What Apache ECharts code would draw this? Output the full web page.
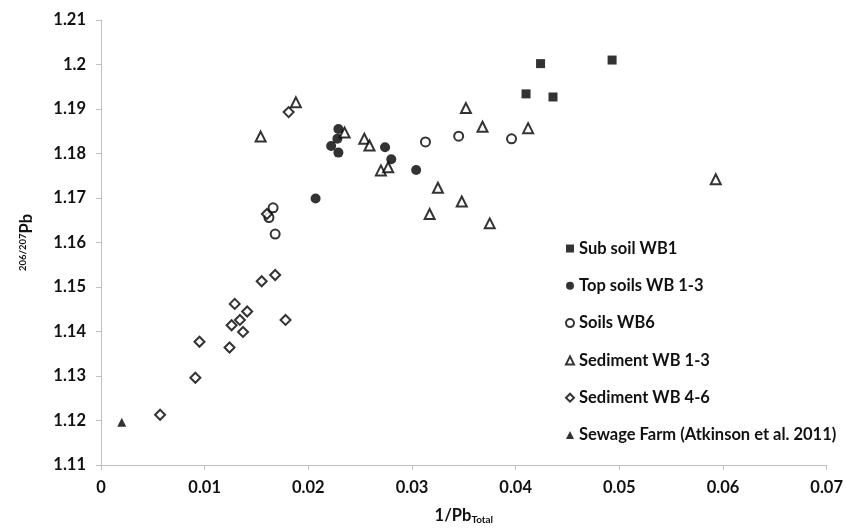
<!DOCTYPE html>
<html>
<head>
<meta charset="utf-8">
<script src="https://cdn.jsdelivr.net/npm/echarts@6/dist/echarts.min.js"></script>
<style>
  html, body { margin: 0; padding: 0; background: #fff; }
  #container1 { width: 846px; height: 530px; }
</style>
</head>
<body>
<div id="container1"></div>
<script>
// [1/Pb total, 206/207Pb]
var subSoilWB1 = [[0.0410, 1.1934], [0.0424, 1.2002], [0.0436, 1.1927], [0.0493, 1.2010]];
var topSoilsWB13 = [[0.0229, 1.1855], [0.0228, 1.1833], [0.0222, 1.1817], [0.0229, 1.1802],
    [0.0274, 1.1814], [0.0280, 1.1787], [0.0304, 1.1763], [0.0207, 1.1699]];
var soilsWB6 = [[0.0313, 1.1826], [0.0345, 1.1839], [0.0396, 1.1833],
    [0.0166, 1.1678], [0.0162, 1.1656], [0.0168, 1.1619]];
var sedimentWB13 = [[0.0154, 1.1838], [0.0188, 1.1915], [0.0235, 1.1847], [0.0254, 1.1833],
    [0.0259, 1.1818], [0.0270, 1.1762], [0.0277, 1.1769], [0.0325, 1.1723], [0.0317, 1.1664],
    [0.0348, 1.1692], [0.0375, 1.1643], [0.0352, 1.1902], [0.0368, 1.1860], [0.0412, 1.1857],
    [0.0593, 1.1742]];
var sedimentWB46 = [[0.0181, 1.1893], [0.0160, 1.1664], [0.0057, 1.1213], [0.0091, 1.1296],
    [0.0095, 1.1377], [0.0124, 1.1364], [0.0126, 1.1414], [0.0129, 1.1462], [0.0134, 1.1426],
    [0.0137, 1.1399], [0.0141, 1.1445], [0.0155, 1.1513], [0.0168, 1.1527], [0.0178, 1.1426]];
var sewageFarm = [[0.0020, 1.1196]];

var dom = document.getElementById("container1");
var myChart = echarts.init(dom);
var labelFont = { fontFamily: 'Lato', fontWeight: 'bold', fontSize: 16.5, color: '#111' };

var option = {
    animation: false,
    backgroundColor: '#fff',
    grid: { left: 101, right: 16, top: 20, bottom: 61 },
    legend: {
        orient: 'vertical',
        left: 560,
        top: 235,
        itemWidth: 8,
        itemHeight: 8,
        itemGap: 20.3,
        textStyle: labelFont,
        data: ['Sub soil WB1', 'Top soils WB 1-3', 'Soils WB6', 'Sediment WB 1-3',
            'Sediment WB 4-6', 'Sewage Farm (Atkinson et al. 2011)']
    },
    xAxis: {
        type: 'value',
        min: 0,
        max: 0.07,
        interval: 0.01,
        splitLine: { show: false },
        axisLine: { show: true, onZero: false, lineStyle: { color: '#bfbfbf' } },
        axisTick: { show: true, length: 5, lineStyle: { color: '#bfbfbf' } },
        axisLabel: Object.assign({ margin: 14 }, labelFont),
        name: '{b|1/Pb}{sub|Total}',
        nameLocation: 'middle',
        nameGap: 42,
        nameTextStyle: {
            rich: {
                b: labelFont,
                sub: { fontFamily: 'Lato', fontWeight: 'bold', fontSize: 10, color: '#111', padding: [8, 0, 0, 0] }
            }
        }
    },
    yAxis: {
        type: 'value',
        min: 1.11,
        max: 1.21,
        interval: 0.01,
        splitLine: { show: false },
        axisLine: { show: true, onZero: false, lineStyle: { color: '#bfbfbf' } },
        axisTick: { show: true, length: 5, lineStyle: { color: '#bfbfbf' } },
        axisLabel: Object.assign({ margin: 15, formatter: function (v) {
            return String(parseFloat(v.toFixed(2)));
        } }, labelFont),
        name: '{sup|206/207}{b|Pb}',
        nameLocation: 'middle',
        nameRotate: 90,
        nameGap: 66,
        nameTextStyle: {
            rich: {
                b: labelFont,
                sup: { fontFamily: 'Lato', fontWeight: 'bold', fontSize: 9.5, color: '#111', padding: [0, 0, 7, 0] }
            }
        }
    },
    series: [
        {
            name: 'Sub soil WB1', type: 'scatter', symbol: 'rect', symbolSize: 9,
            itemStyle: { color: '#000' }, data: subSoilWB1
        },
        {
            name: 'Top soils WB 1-3', type: 'scatter', symbol: 'circle', symbolSize: 10,
            itemStyle: { color: '#000' }, data: topSoilsWB13
        },
        {
            name: 'Soils WB6', type: 'scatter', symbol: 'emptyCircle', symbolSize: 9,
            itemStyle: { color: '#000', borderWidth: 1 }, data: soilsWB6
        },
        {
            name: 'Sediment WB 1-3', type: 'scatter', symbol: 'emptyTriangle', symbolSize: 10,
            itemStyle: { color: '#000', borderWidth: 1 }, data: sedimentWB13
        },
        {
            name: 'Sediment WB 4-6', type: 'scatter', symbol: 'emptyDiamond', symbolSize: 10,
            itemStyle: { color: '#000', borderWidth: 1 }, data: sedimentWB46
        },
        {
            name: 'Sewage Farm (Atkinson et al. 2011)', type: 'scatter', symbol: 'triangle', symbolSize: 9,
            itemStyle: { color: '#000' }, data: sewageFarm
        }
    ]
};

if (option && typeof option === "object") {
    myChart.setOption(option, true);
}
</script>
</body>
</html>
